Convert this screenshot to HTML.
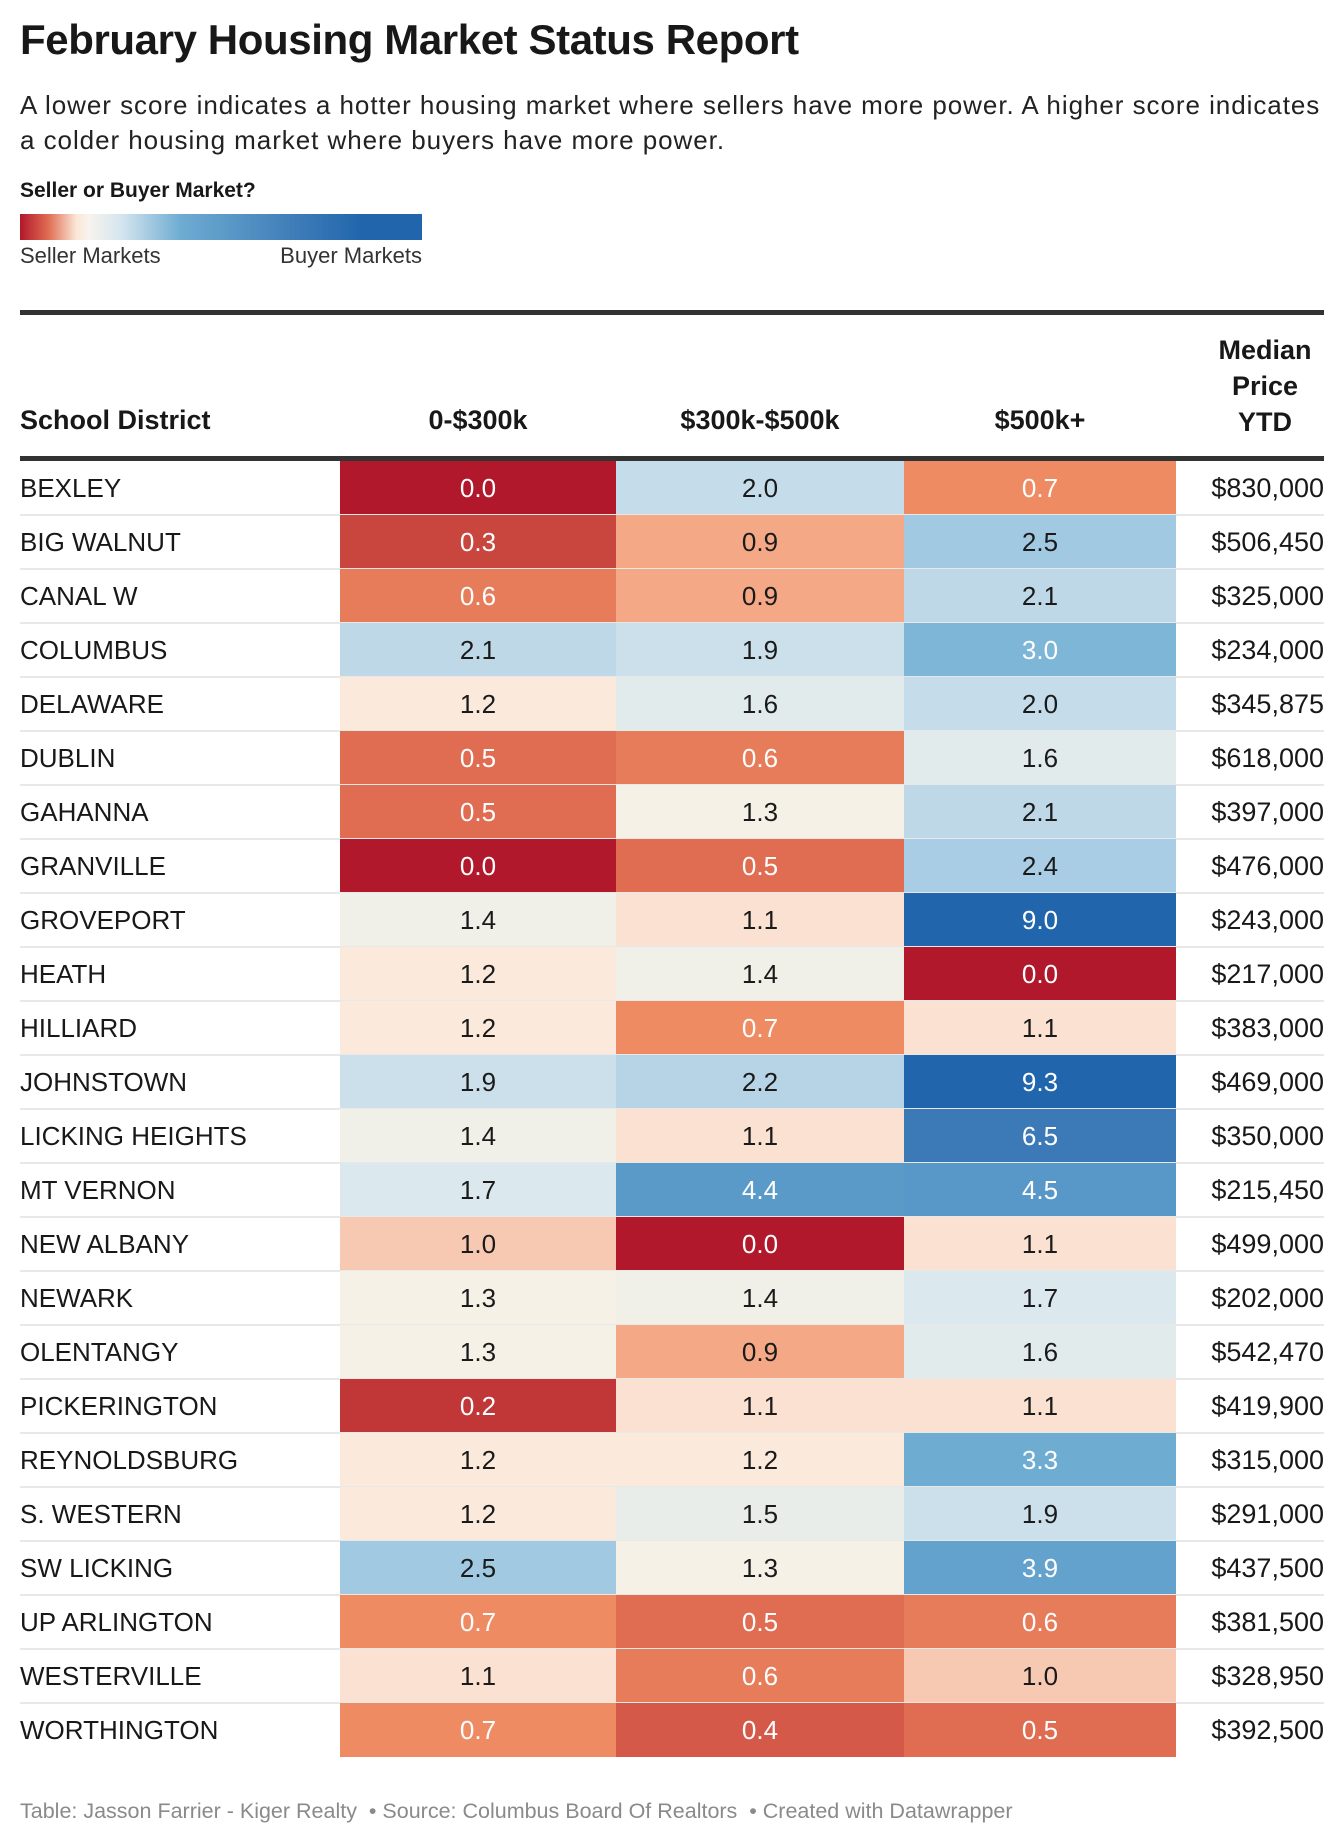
<!DOCTYPE html>
<html><head><meta charset="utf-8">
<style>
body{margin:0;background:#fff;width:1344px;height:1842px;position:relative;font-family:"Liberation Sans",sans-serif;color:#181818;overflow:hidden}
.abs{position:absolute}
#title{left:20px;top:16px;font-size:42px;font-weight:bold;letter-spacing:-0.4px;margin:0}
#desc{left:20px;top:88px;width:1310px;font-size:26px;line-height:35px;color:#222;letter-spacing:0.95px}
#legtitle{left:20px;top:179px;font-size:21px;font-weight:bold}
#legbar{left:20px;top:214px;width:402px;height:26px;background:linear-gradient(to right,#b2182b 0%,#e06c52 7%,#fbe6d6 14%,#f7f3ee 17%,#d6e6ef 25%,#6eacd2 40%,#3c7ab7 70%,#2166ac 85%,#2166ac 100%)}
.leglab{top:243px;font-size:22px;color:#333}
.rule{left:20px;width:1304px;background:#333}
.hd{font-size:27px;font-weight:bold;text-align:center}
.cell{position:absolute;text-align:center;font-size:26px}
.name{position:absolute;left:20px;font-size:26px}
.price{position:absolute;right:20px;font-size:27px;text-align:right}
.sep{position:absolute;left:20px;width:1304px;height:2px;background:#e8e8e8}
#foot{left:20px;top:1799px;font-size:21.5px;color:#8a8a8a}
</style></head><body>
<h1 id="title" class="abs">February Housing Market Status Report</h1>
<div id="desc" class="abs">A lower score indicates a hotter housing market where sellers have more power. A higher score indicates a colder housing market where buyers have more power.</div>
<div id="legtitle" class="abs">Seller or Buyer Market?</div>
<div id="legbar" class="abs"></div>
<div class="abs leglab" style="left:20px">Seller Markets</div>
<div class="abs leglab" style="right:922px">Buyer Markets</div>
<div class="abs rule" style="top:310px;height:5px"></div>
<div class="abs hd" style="left:20px;top:405px;text-align:left">School District</div>
<div class="abs hd" style="left:340px;width:276px;top:405px">0-$300k</div>
<div class="abs hd" style="left:616px;width:288px;top:405px">$300k-$500k</div>
<div class="abs hd" style="left:904px;width:272px;top:405px">$500k+</div>
<div class="abs hd" style="left:1190px;width:150px;top:332px;line-height:36px">Median<br>Price<br>YTD</div>
<div class="abs rule" style="top:456px;height:5px"></div>
<div id="table"></div>
<div id="foot" class="abs">Table: Jasson Farrier - Kiger Realty &nbsp;• Source: Columbus Board Of Realtors &nbsp;• Created with Datawrapper</div>
<script>
const districts=["BEXLEY","BIG WALNUT","CANAL W","COLUMBUS","DELAWARE","DUBLIN","GAHANNA","GRANVILLE","GROVEPORT","HEATH","HILLIARD","JOHNSTOWN","LICKING HEIGHTS","MT VERNON","NEW ALBANY","NEWARK","OLENTANGY","PICKERINGTON","REYNOLDSBURG","S. WESTERN","SW LICKING","UP ARLINGTON","WESTERVILLE","WORTHINGTON"];
const low=[0.0,0.3,0.6,2.1,1.2,0.5,0.5,0.0,1.4,1.2,1.2,1.9,1.4,1.7,1.0,1.3,1.3,0.2,1.2,1.2,2.5,0.7,1.1,0.7];
const mid=[2.0,0.9,0.9,1.9,1.6,0.6,1.3,0.5,1.1,1.4,0.7,2.2,1.1,4.4,0.0,1.4,0.9,1.1,1.2,1.5,1.3,0.5,0.6,0.4];
const high=[0.7,2.5,2.1,3.0,2.0,1.6,2.1,2.4,9.0,0.0,1.1,9.3,6.5,4.5,1.1,1.7,1.6,1.1,3.3,1.9,3.9,0.6,1.0,0.5];
const prices=["$830,000","$506,450","$325,000","$234,000","$345,875","$618,000","$397,000","$476,000","$243,000","$217,000","$383,000","$469,000","$350,000","$215,450","$499,000","$202,000","$542,470","$419,900","$315,000","$291,000","$437,500","$381,500","$328,950","$392,500"];
const stops=[[0,[178,24,43]],[0.3,[201,70,63]],[0.5,[224,108,82]],[0.7,[238,139,99]],[0.9,[245,168,134]],[1.0,[248,201,178]],[1.1,[251,225,210]],[1.2,[251,234,220]],[1.3,[246,241,230]],[1.4,[240,240,232]],[1.7,[219,232,238]],[2.0,[197,220,234]],[2.5,[161,201,226]],[3.0,[125,182,214]],[3.3,[110,172,210]],[4.5,[88,152,200]],[6.5,[60,122,183]],[9.0,[33,102,172]],[10,[33,102,172]]];
function color(v){for(let i=0;i<stops.length-1;i++){const a=stops[i],b=stops[i+1];if(v<=b[0]){const t=(v-a[0])/(b[0]-a[0]);return 'rgb('+a[1].map((c,k)=>Math.round(c+(b[1][k]-c)*t)).join(',')+')';}}return 'rgb(33,102,172)';}
const top0=461,rh=54.0;
const cols=[[340,276],[616,288],[904,272]];
const tb=document.getElementById('table');
function yOf(i){return top0+i*rh;}
districts.forEach((d,i)=>{
  const y=yOf(i);
  if(i>0){const s=document.createElement('div');s.className='sep';s.style.top=(y-1)+'px';
  
  tb.appendChild(s);}
  const n=document.createElement('div');n.className='name';n.style.top=(y+12)+'px';n.textContent=d;
  
  tb.appendChild(n);
  [low[i],mid[i],high[i]].forEach((v,k)=>{
    const c=document.createElement('div');c.className='cell';
    c.style.left=cols[k][0]+'px';c.style.width=cols[k][1]+'px';
    c.style.top=y+'px';c.style.height=Math.ceil(rh)+'px';c.style.lineHeight=rh+'px';
    c.style.background=color(v);c.style.color=(v<0.9||v>=3.0)?'#fff':'#1a1a1a';
    c.textContent=v.toFixed(1);
    
    tb.appendChild(c);
  });
  const p=document.createElement('div');p.className='price';p.style.top=(y+12)+'px';p.textContent=prices[i];
  
  tb.appendChild(p);
});
</script>
</body></html>
